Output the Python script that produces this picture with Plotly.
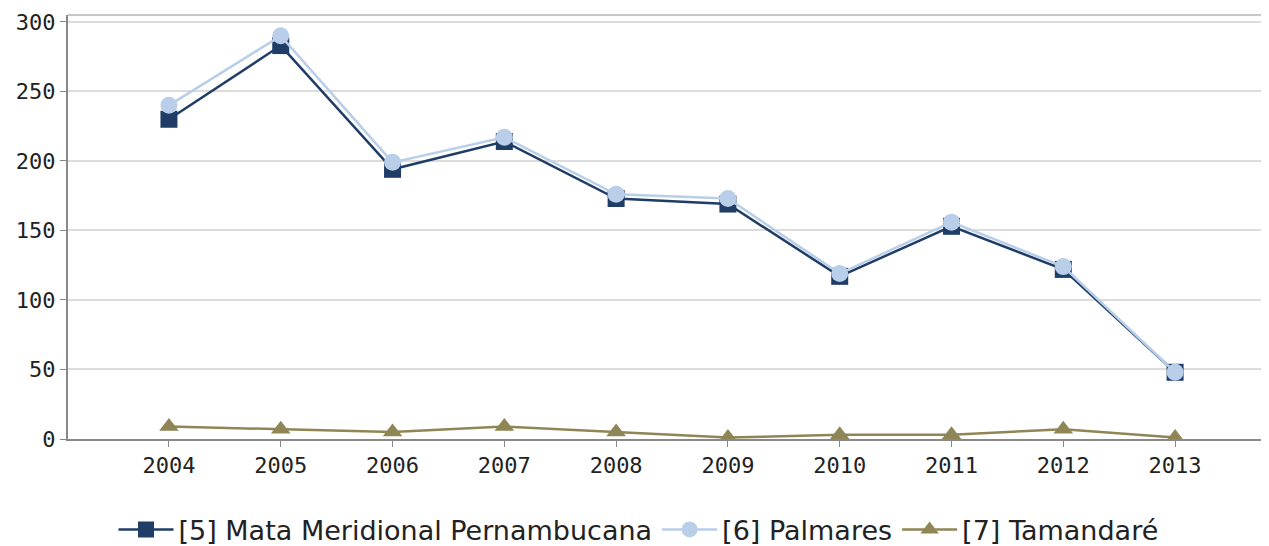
import plotly.graph_objects as go

years = [2004, 2005, 2006, 2007, 2008, 2009, 2010, 2011, 2012, 2013]
mata = [230, 283, 194, 214, 173, 169, 117, 153, 122, 48]
palmares = [240, 290, 199, 217, 176, 173, 119, 156, 124, 48]
tamandare = [9, 7, 5, 9, 5, 1, 3, 3, 7, 1]

names = [
    "[5] Mata Meridional Pernambucana",
    "[6] Palmares",
    "[7] Tamandaré",
]
colors = ["#1f3d66", "#b9cee8", "#8f8555"]
symbols = ["square", "circle", "triangle-up"]

fig = go.Figure()
for name, vals, color, sym in zip(names, [mata, palmares, tamandare], colors, symbols):
    fig.add_trace(
        go.Scatter(
            x=years,
            y=vals,
            name=name,
            mode="lines+markers",
            line=dict(color=color, width=2.5),
            marker=dict(symbol=sym, size=17, color=color),
        )
    )

# the page body adds an 8px offset, so the figure is sized to fit inside it
fig.update_layout(
    width=1261,
    height=538,
    template="plotly_white",
    plot_bgcolor="white",
    margin=dict(l=60, r=0, t=7, b=107, autoexpand=False),
    showlegend=True,
    legend=dict(
        orientation="h",
        x=0.5,
        xanchor="center",
        xref="container",
        yref="container",
        y=0.03,
        yanchor="middle",
        font=dict(family="DejaVu Sans", size=27, color="#222"),
        itemwidth=55,
    ),
    font=dict(family="DejaVu Sans Mono", size=22, color="#222"),
)

fig.update_xaxes(
    range=[2003.097, 2013.84],
    tickvals=years,
    ticktext=[str(y) for y in years],
    showgrid=False,
    showline=True,
    linecolor="#888",
    linewidth=2,
    ticks="outside",
    ticklen=6,
    tickcolor="#888",
    zeroline=False,
    automargin=False,
)

fig.update_yaxes(
    range=[0, 305],
    tickvals=[0, 50, 100, 150, 200, 250, 300],
    showgrid=True,
    gridcolor="#dcdcdc",
    gridwidth=1.5,
    showline=True,
    linecolor="#888",
    linewidth=2,
    ticks="outside",
    ticklen=6,
    tickcolor="#888",
    zeroline=False,
    automargin=False,
)

# top border of the plot frame
fig.add_shape(
    type="line", xref="paper", yref="paper",
    x0=0, x1=1, y0=1, y1=1,
    line=dict(color="#c8c8c8", width=2),
)

fig.write_html("out.html")
